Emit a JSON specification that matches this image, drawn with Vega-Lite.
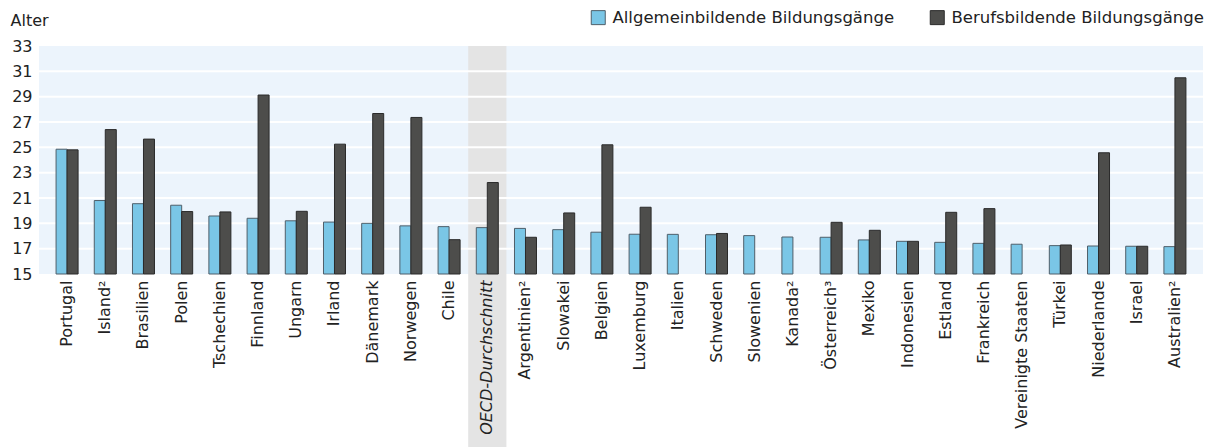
{
  "$schema": "https://vega.github.io/schema/vega-lite/v6.json",
  "width": 1164,
  "height": 228,
  "autosize": {"type": "none"},
  "padding": {"left": 39, "top": 46, "right": 9, "bottom": 173},
  "background": "white",
  "config": {
    "font": "DejaVu Sans",
    "view": {"fill": "#ECF4FC", "stroke": null},
    "axis": {"labelFont": "DejaVu Sans", "labelColor": "#222222", "titleColor": "#222222"}
  },
  "resolve": {"axis": {"y": "independent"}},
  "datasets": {
    "grid": [{"g": 17}, {"g": 19}, {"g": 21}, {"g": 23}, {"g": 25}, {"g": 27}, {"g": 29}, {"g": 31}],
    "band": [{"land": "OECD-Durchschnitt"}],
    "werte": [
      {"land": "Portugal", "typ": "Allgemeinbildende Bildungsgänge", "alter": 24.85},
      {"land": "Portugal", "typ": "Berufsbildende Bildungsgänge", "alter": 24.8},
      {"land": "Island²", "typ": "Allgemeinbildende Bildungsgänge", "alter": 20.8},
      {"land": "Island²", "typ": "Berufsbildende Bildungsgänge", "alter": 26.4},
      {"land": "Brasilien", "typ": "Allgemeinbildende Bildungsgänge", "alter": 20.55},
      {"land": "Brasilien", "typ": "Berufsbildende Bildungsgänge", "alter": 25.65},
      {"land": "Polen", "typ": "Allgemeinbildende Bildungsgänge", "alter": 20.43},
      {"land": "Polen", "typ": "Berufsbildende Bildungsgänge", "alter": 19.93},
      {"land": "Tschechien", "typ": "Allgemeinbildende Bildungsgänge", "alter": 19.58},
      {"land": "Tschechien", "typ": "Berufsbildende Bildungsgänge", "alter": 19.9},
      {"land": "Finnland", "typ": "Allgemeinbildende Bildungsgänge", "alter": 19.4},
      {"land": "Finnland", "typ": "Berufsbildende Bildungsgänge", "alter": 29.13},
      {"land": "Ungarn", "typ": "Allgemeinbildende Bildungsgänge", "alter": 19.2},
      {"land": "Ungarn", "typ": "Berufsbildende Bildungsgänge", "alter": 19.95},
      {"land": "Irland", "typ": "Allgemeinbildende Bildungsgänge", "alter": 19.1},
      {"land": "Irland", "typ": "Berufsbildende Bildungsgänge", "alter": 25.25},
      {"land": "Dänemark", "typ": "Allgemeinbildende Bildungsgänge", "alter": 19.0},
      {"land": "Dänemark", "typ": "Berufsbildende Bildungsgänge", "alter": 27.67},
      {"land": "Norwegen", "typ": "Allgemeinbildende Bildungsgänge", "alter": 18.8},
      {"land": "Norwegen", "typ": "Berufsbildende Bildungsgänge", "alter": 27.36},
      {"land": "Chile", "typ": "Allgemeinbildende Bildungsgänge", "alter": 18.74},
      {"land": "Chile", "typ": "Berufsbildende Bildungsgänge", "alter": 17.71},
      {"land": "OECD-Durchschnitt", "typ": "Allgemeinbildende Bildungsgänge", "alter": 18.66},
      {"land": "OECD-Durchschnitt", "typ": "Berufsbildende Bildungsgänge", "alter": 22.22},
      {"land": "Argentinien²", "typ": "Allgemeinbildende Bildungsgänge", "alter": 18.6},
      {"land": "Argentinien²", "typ": "Berufsbildende Bildungsgänge", "alter": 17.9},
      {"land": "Slowakei", "typ": "Allgemeinbildende Bildungsgänge", "alter": 18.5},
      {"land": "Slowakei", "typ": "Berufsbildende Bildungsgänge", "alter": 19.82},
      {"land": "Belgien", "typ": "Allgemeinbildende Bildungsgänge", "alter": 18.3},
      {"land": "Belgien", "typ": "Berufsbildende Bildungsgänge", "alter": 25.2},
      {"land": "Luxemburg", "typ": "Allgemeinbildende Bildungsgänge", "alter": 18.14},
      {"land": "Luxemburg", "typ": "Berufsbildende Bildungsgänge", "alter": 20.27},
      {"land": "Italien", "typ": "Allgemeinbildende Bildungsgänge", "alter": 18.13},
      {"land": "Schweden", "typ": "Allgemeinbildende Bildungsgänge", "alter": 18.1},
      {"land": "Schweden", "typ": "Berufsbildende Bildungsgänge", "alter": 18.2},
      {"land": "Slowenien", "typ": "Allgemeinbildende Bildungsgänge", "alter": 18.03},
      {"land": "Kanada²", "typ": "Allgemeinbildende Bildungsgänge", "alter": 17.92},
      {"land": "Österreich³", "typ": "Allgemeinbildende Bildungsgänge", "alter": 17.9},
      {"land": "Österreich³", "typ": "Berufsbildende Bildungsgänge", "alter": 19.08},
      {"land": "Mexiko", "typ": "Allgemeinbildende Bildungsgänge", "alter": 17.69},
      {"land": "Mexiko", "typ": "Berufsbildende Bildungsgänge", "alter": 18.45},
      {"land": "Indonesien", "typ": "Allgemeinbildende Bildungsgänge", "alter": 17.58},
      {"land": "Indonesien", "typ": "Berufsbildende Bildungsgänge", "alter": 17.58},
      {"land": "Estland", "typ": "Allgemeinbildende Bildungsgänge", "alter": 17.5},
      {"land": "Estland", "typ": "Berufsbildende Bildungsgänge", "alter": 19.87},
      {"land": "Frankreich", "typ": "Allgemeinbildende Bildungsgänge", "alter": 17.42},
      {"land": "Frankreich", "typ": "Berufsbildende Bildungsgänge", "alter": 20.16},
      {"land": "Vereinigte Staaten", "typ": "Allgemeinbildende Bildungsgänge", "alter": 17.35},
      {"land": "Türkei", "typ": "Allgemeinbildende Bildungsgänge", "alter": 17.24},
      {"land": "Türkei", "typ": "Berufsbildende Bildungsgänge", "alter": 17.29},
      {"land": "Niederlande", "typ": "Allgemeinbildende Bildungsgänge", "alter": 17.21},
      {"land": "Niederlande", "typ": "Berufsbildende Bildungsgänge", "alter": 24.57},
      {"land": "Israel", "typ": "Allgemeinbildende Bildungsgänge", "alter": 17.19},
      {"land": "Israel", "typ": "Berufsbildende Bildungsgänge", "alter": 17.19},
      {"land": "Australien²", "typ": "Allgemeinbildende Bildungsgänge", "alter": 17.16},
      {"land": "Australien²", "typ": "Berufsbildende Bildungsgänge", "alter": 30.49}
    ]
  },
  "encoding": {
    "x": {
      "field": "land",
      "type": "nominal",
      "sort": null,
      "scale": {
        "domain": ["Portugal", "Island²", "Brasilien", "Polen", "Tschechien", "Finnland", "Ungarn", "Irland", "Dänemark", "Norwegen", "Chile", "OECD-Durchschnitt", "Argentinien²", "Slowakei", "Belgien", "Luxemburg", "Italien", "Schweden", "Slowenien", "Kanada²", "Österreich³", "Mexiko", "Indonesien", "Estland", "Frankreich", "Vereinigte Staaten", "Türkei", "Niederlande", "Israel", "Australien²"],
        "paddingInner": 0,
        "paddingOuter": 0.235
      },
      "axis": {
        "title": null,
        "labelAngle": -90,
        "labelFontSize": 16,
        "labelPadding": 6,
        "labelFontStyle": {"condition": {"test": "datum.value == 'OECD-Durchschnitt'", "value": "italic"}, "value": "normal"},
        "ticks": false,
        "domain": false,
        "grid": false,
        "zindex": 1,
        "labelOverlap": false,
        "labelLimit": 300
      }
    }
  },
  "layer": [
    {
      "data": {"name": "band"},
      "mark": {"type": "bar", "color": "#E4E4E4", "clip": false},
      "encoding": {
        "y": {"datum": 33, "type": "quantitative", "scale": {"domain": [15, 33], "nice": false, "zero": false}, "axis": null},
        "y2": {"datum": 1.3}
      }
    },
    {
      "data": {"name": "grid"},
      "mark": {"type": "rule", "color": "#FFFFFF", "strokeWidth": 2},
      "encoding": {
        "x": null,
        "y": {"field": "g", "type": "quantitative", "axis": null}
      }
    },
    {
      "data": {"name": "werte"},
      "mark": {"type": "bar", "strokeWidth": 1},
      "encoding": {
        "xOffset": {
          "field": "typ",
          "type": "nominal",
          "scale": {"domain": ["Allgemeinbildende Bildungsgänge", "Berufsbildende Bildungsgänge"], "paddingInner": 0, "paddingOuter": 0.736}
        },
        "y": {
          "field": "alter",
          "type": "quantitative",
          "axis": {
            "title": "Alter",
            "titleAngle": 0,
            "titleAlign": "left",
            "titleBaseline": "alphabetic",
            "titleX": -29,
            "titleY": -21,
            "titleFontSize": 16,
            "titleFontWeight": "normal",
            "titleFont": "DejaVu Sans",
            "values": [15, 17, 19, 21, 23, 25, 27, 29, 31, 33],
            "labelFontSize": 16,
            "labelPadding": 7,
            "labelOverlap": false,
            "labelBound": false,
            "ticks": false,
            "domain": false,
            "grid": false
          }
        },
        "y2": {"datum": 15},
        "color": {
          "field": "typ",
          "type": "nominal",
          "scale": {"domain": ["Allgemeinbildende Bildungsgänge", "Berufsbildende Bildungsgänge"], "range": ["#7AC6E6", "#4D4D4B"]},
          "legend": {
            "title": null,
            "orient": "none",
            "direction": "horizontal",
            "legendX": 551,
            "legendY": -37,
            "symbolType": "square",
            "symbolSize": 196,
            "symbolStrokeWidth": 1,
            "symbolStrokeColor": "#333333",
            "labelFontSize": 16.5,
            "labelFont": "DejaVu Sans",
            "labelColor": "#222222",
            "labelOffset": 6,
            "columnPadding": 33,
            "labelLimit": 400
          }
        },
        "stroke": {
          "field": "typ",
          "type": "nominal",
          "scale": {"domain": ["Allgemeinbildende Bildungsgänge", "Berufsbildende Bildungsgänge"], "range": ["#4F5F6A", "#2A2A2A"]},
          "legend": null
        }
      }
    }
  ]
}
